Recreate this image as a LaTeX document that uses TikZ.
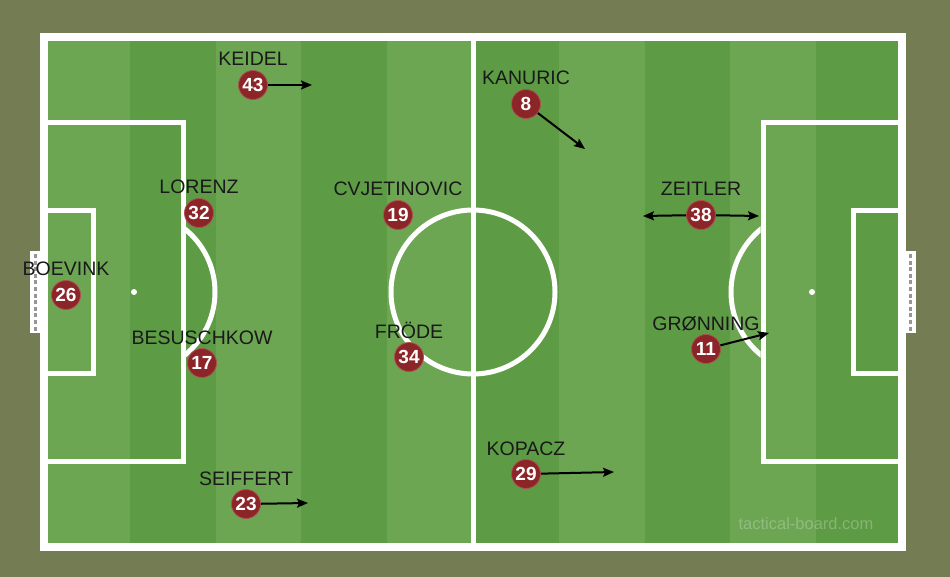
\documentclass[tikz,border=0pt]{standalone}
\usepackage{fontspec}
\setmainfont{Liberation Sans}
\usetikzlibrary{arrows.meta}
\definecolor{bgolive}{RGB}{115,124,83}
\definecolor{stripelight}{RGB}{108,166,83}
\definecolor{stripedark}{RGB}{93,156,69}
\definecolor{plred}{RGB}{139,37,39}
\definecolor{plrim}{RGB}{172,80,80}
\definecolor{netgray}{RGB}{150,150,150}
\tikzset{
  fieldline/.style={white,line width=5pt},
  outerline/.style={white,line width=8pt},
  pl/.style={circle,fill=plred,draw=plrim,line width=0.8pt,minimum size=29pt,inner sep=0pt,
    text=white,font=\bfseries\fontsize{19}{19}\selectfont},
  lbl/.style={anchor=base,inner sep=0pt,text={black!90},font=\fontsize{19.5}{20}\selectfont},
  arr/.style={black,line width=2pt,-{Stealth[length=11pt,width=9pt,inset=2pt]}},
  wm/.style={inner sep=0pt,text=white,text opacity=0.25,font=\fontsize{16.5}{17}\selectfont}
}
\newcommand\plyr[5]{%
  \node[pl] (p#1) at (#2,#3) {#4};
  \node[lbl] (l#1) at (#2,#3-19) {#5};
}
\begin{document}
\begin{tikzpicture}[x=1pt,y=-1pt]
\useasboundingbox (0,0) rectangle (950,577);
\fill[bgolive] (0,0) rectangle (950,577);
% stripes
\foreach \i in {0,...,9}{
  \pgfmathtruncatemacro\odd{mod(\i,2)}
  \ifnum\odd=0 \def\sc{stripelight}\else\def\sc{stripedark}\fi
  \fill[\sc] ({44+85.8*\i},37) rectangle ({44+85.8*(\i+1)},547);
}
% goals
\fill[white] (30,251) rectangle (41,333);
\draw[netgray,line width=3pt,dash pattern=on 4pt off 2.6pt] (35,254) -- (35,331);
\fill[white] (905,251) rectangle (916,333);
\draw[netgray,line width=3pt,dash pattern=on 4pt off 2.6pt] (910,254) -- (910,331);
% lines
\draw[outerline] (44,37) rectangle (902,547);
\draw[fieldline] (473,37) -- (473,547);
\draw[fieldline] (473,292) circle[radius=82pt];
\draw[fieldline] (44,123) rectangle (183,461);
\draw[fieldline] (44,211) rectangle (93,373);
\draw[fieldline] (902,123) rectangle (763,461);
\draw[fieldline] (902,211) rectangle (853,373);
\fill[white] (134,292) circle[radius=3pt];
\fill[white] (812,292) circle[radius=3pt];
\begin{scope}
  \clip (185.5,0) rectangle (320,577);
  \draw[fieldline] (134,292) circle[radius=81pt];
\end{scope}
\begin{scope}
  \clip (600,0) rectangle (760.5,577);
  \draw[fieldline] (812,292) circle[radius=81pt];
\end{scope}
% watermark
\node[wm] (wm) at (806,524) {tactical-board.com};
% players
\plyr{43}{253}{85}{43}{KEIDEL}
\plyr{8}{526}{104}{8}{KANURIC}
\plyr{32}{199}{213}{32}{LORENZ}
\plyr{19}{398}{215}{19}{CVJETINOVIC}
\plyr{38}{701}{215}{38}{ZEITLER}
\plyr{26}{66}{295}{26}{BOEVINK}
\plyr{17}{202}{363}{17}{BESUSCHKOW}
\plyr{34}{409}{357}{34}{FRÖDE}
\plyr{11}{706}{349}{11}{GRØNNING}
\plyr{23}{246}{504}{23}{SEIFFERT}
\plyr{29}{526}{474}{29}{KOPACZ}
% movement arrows
\coordinate (a43) at (312,85);
\coordinate (a8) at (585,149);
\coordinate (a38l) at (643,216);
\coordinate (a38r) at (759,216);
\coordinate (a11) at (769,333);
\coordinate (a23) at (308,503);
\coordinate (a29) at (614,472);
\draw[arr] (p43) -- (a43);
\draw[arr] (p8) -- (a8);
\draw[arr] (p38) -- (a38l);
\draw[arr] (p38) -- (a38r);
\draw[arr] (p11) -- (a11);
\draw[arr] (p23) -- (a23);
\draw[arr] (p29) -- (a29);
\end{tikzpicture}
\end{document}
